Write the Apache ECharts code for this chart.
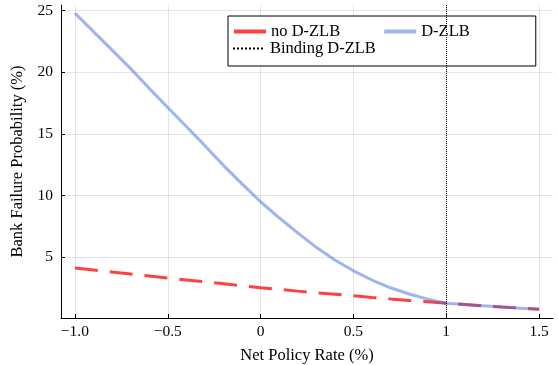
<!DOCTYPE html>
<html>
<head>
<meta charset="utf-8">
<script src="https://cdn.jsdelivr.net/npm/echarts@6/dist/echarts.min.js"></script>
<style>html,body{margin:0;padding:0;background:#fff;}#c{width:558px;height:365px;}</style>
</head>
<body>
<div id="c"></div>
<script>
const policyRate = [-1.0, -0.9, -0.8, -0.7, -0.6, -0.5, -0.4, -0.3, -0.2, -0.1, 0.0, 0.1, 0.2, 0.3, 0.4, 0.5, 0.6, 0.7, 0.8, 0.9, 1.0, 1.1, 1.2, 1.3, 1.4, 1.5];
const noDZLB = [4.13, 3.97, 3.80, 3.64, 3.48, 3.32, 3.16, 3.00, 2.84, 2.68, 2.53, 2.39, 2.25, 2.12, 2.00, 1.88, 1.74, 1.61, 1.49, 1.38, 1.27, 1.17, 1.06, 0.96, 0.87, 0.78];
const dZLB = [24.8, 23.3, 21.8, 20.3, 18.7, 17.15, 15.6, 14.05, 12.45, 10.95, 9.5, 8.2, 6.98, 5.8, 4.78, 3.9, 3.15, 2.52, 2.02, 1.6, 1.27, 1.17, 1.06, 0.96, 0.87, 0.78];
const bindingRate = 1;
const xTicks = [-1, -0.5, 0, 0.5, 1, 1.5];
const xTickLabels = ['\u22121.0', '\u22120.5', '0', '0.5', '1', '1.5'];
const yTicks = [5, 10, 15, 20, 25];
const yTickLabels = ['5', '10', '15', '20', '25'];
const seriesNames = ['no D-ZLB', 'D-ZLB', 'Binding D-ZLB'];
const xTitle = 'Net Policy Rate (%)';
const yTitle = 'Bank Failure Probability (%)';

const FONT = 'Liberation Serif';
const chart = echarts.init(document.getElementById('c'));
const pair = (xs, ys) => xs.map((x, i) => [x, ys[i]]);
const gridColor = 'rgba(0,0,0,0.1)';
const noSymbol = { color: 'rgba(0,0,0,0)', borderWidth: 0, opacity: 0 };

chart.setOption({
  animation: false,
  textStyle: { fontFamily: FONT },
  grid: { left: 61, right: 5, top: 5, bottom: 47, containLabel: false, outerBoundsMode: 'none' },
  xAxis: {
    type: 'value', min: -1.075, max: 1.575,
    name: xTitle, nameLocation: 'middle', nameGap: 29,
    nameTextStyle: { fontFamily: FONT, fontSize: 16.5, color: '#000' },
    axisLine: { show: true, onZero: false, lineStyle: { color: '#000', width: 1 } },
    axisTick: { show: true, inside: true, length: 4, customValues: xTicks, lineStyle: { color: '#000' } },
    axisLabel: { customValues: xTicks, margin: 6, fontFamily: FONT, fontSize: 15.5, color: '#000',
      formatter: v => { const i = xTicks.findIndex(t => Math.abs(t - v) < 1e-9); return i >= 0 ? xTickLabels[i] : ''; } },
    splitLine: { show: true, lineStyle: { color: gridColor, width: 1 } }
  },
  yAxis: {
    type: 'value', min: 0.07, max: 25.46,
    name: yTitle, nameLocation: 'middle', nameGap: 29,
    nameTextStyle: { fontFamily: FONT, fontSize: 16.5, color: '#000' },
    axisLine: { show: true, onZero: false, lineStyle: { color: '#000', width: 1 } },
    axisTick: { show: true, inside: true, length: 4, customValues: yTicks, lineStyle: { color: '#000' } },
    axisLabel: { customValues: yTicks, margin: 8, fontFamily: FONT, fontSize: 15.5, color: '#000',
      formatter: v => { const i = yTicks.findIndex(t => Math.abs(t - v) < 1e-9); return i >= 0 ? yTickLabels[i] : ''; } },
    splitLine: { show: true, lineStyle: { color: gridColor, width: 1 } }
  },
  legend: [
    {
      left: 228, top: 16, orient: 'horizontal',
      padding: [7, 66, 26, 4],
      borderColor: '#000', borderWidth: 1, backgroundColor: '#fff',
      itemWidth: 32, itemHeight: 12, itemGap: 42,
      textStyle: { fontFamily: FONT, fontSize: 16.5, color: '#000' },
      data: [
        { name: seriesNames[0], lineStyle: { type: 'solid', width: 4 }, itemStyle: noSymbol },
        { name: seriesNames[1], lineStyle: { type: 'solid', width: 4 }, itemStyle: noSymbol }
      ]
    },
    {
      left: 232, top: 40, orient: 'horizontal', padding: 0,
      itemWidth: 32, itemHeight: 12,
      textStyle: { fontFamily: FONT, fontSize: 16.5, color: '#000' },
      data: [{ name: seriesNames[2], itemStyle: noSymbol }]
    }
  ],
  series: [
    {
      name: seriesNames[0], type: 'line', data: pair(policyRate, noDZLB),
      showSymbol: false, symbol: 'none', z: 2,
      lineStyle: { color: 'rgba(255,0,0,0.75)', width: 3, type: [23, 12], cap: 'butt' },
      itemStyle: { color: 'rgba(255,0,0,0.75)' }
    },
    {
      name: seriesNames[1], type: 'line', data: pair(policyRate, dZLB),
      showSymbol: false, symbol: 'none', z: 3,
      lineStyle: { color: 'rgba(65,105,225,0.5)', width: 3 },
      itemStyle: { color: 'rgba(65,105,225,0.5)' }
    },
    {
      name: seriesNames[2], type: 'line', data: [], symbol: 'none', z: 4,
      lineStyle: { color: '#000', width: 1, type: 'dotted' },
      itemStyle: { color: '#000' },
      markLine: {
        silent: true, symbol: ['none', 'none'], label: { show: false },
        lineStyle: { color: '#000', width: 1, type: 'dotted' },
        data: [{ xAxis: bindingRate }]
      }
    }
  ]
});
</script>
</body>
</html>
